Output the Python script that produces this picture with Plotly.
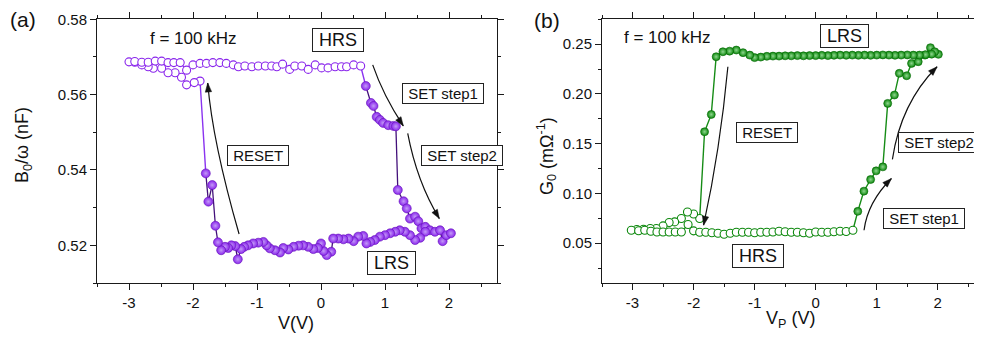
import math
import plotly.graph_objects as go

# ---------------- Panel (a) data: B0/omega (nF) vs V ----------------
a_hrs_v = [-1.89, -1.98, -2.10, -2.18, -2.28, -2.39, -2.49, -2.62, -2.70, -2.80, -2.91, -3.00,
           -2.91, -2.80, -2.70, -2.59, -2.49, -2.39, -2.30, -2.20, -2.10, -2.00, -1.89, -1.79,
           -1.69, -1.58, -1.48, -1.37, -1.29, -1.19, -1.08, -0.98, -0.87, -0.77, -0.69, -0.60,
           -0.49, -0.41, -0.30, -0.20, -0.09, 0.01, 0.11, 0.22, 0.32, 0.40, 0.51, 0.62]
a_hrs_b = [0.5636, 0.5632, 0.5626, 0.5646, 0.5658, 0.5658, 0.5670, 0.5670, 0.5674, 0.5679, 0.5686, 0.5687,
           0.5688, 0.5686, 0.5686, 0.5689, 0.5689, 0.5685, 0.5685, 0.5685, 0.5665, 0.5679, 0.5683, 0.5683,
           0.5685, 0.5685, 0.5683, 0.5679, 0.5674, 0.5676, 0.5674, 0.5676, 0.5676, 0.5676, 0.5674, 0.5681,
           0.5667, 0.5676, 0.5676, 0.5667, 0.5679, 0.5671, 0.5671, 0.5674, 0.5674, 0.5674, 0.5679, 0.5676]

a_lrs_v = [0.70, 0.78, 0.82, 0.87, 0.92, 0.97, 1.05, 1.13, 1.17,
           1.20, 1.29, 1.34, 1.39, 1.47, 1.52, 1.57, 1.63, 1.70, 1.78, 1.86, 1.90, 1.96, 2.03,
           1.63, 1.55, 1.47, 1.39, 1.31, 1.23, 1.16, 1.08, 1.00, 0.92, 0.84, 0.77, 0.71, 0.66,
           0.58, 0.51, 0.43, 0.35, 0.27, 0.19, 0.16, 0.09, 0.04, 0.00, -0.05, -0.12, -0.20,
           -0.28, -0.35, -0.43, -0.51, -0.59, -0.64, -0.72, -0.80, -0.85, -0.90, -0.98, -1.06,
           -1.14, -1.20, -1.25, -1.30, -1.34, -1.40, -1.45, -1.50, -1.56, -1.61, -1.65, -1.70,
           -1.76, -1.80]
a_lrs_b = [0.5623, 0.5578, 0.5570, 0.5541, 0.5533, 0.5525, 0.5519, 0.5517, 0.5516,
           0.5347, 0.5317, 0.5298, 0.5271, 0.5276, 0.5264, 0.5245, 0.5249, 0.5240, 0.5236, 0.5240, 0.5211, 0.5227, 0.5232,
           0.5236, 0.5220, 0.5214, 0.5227, 0.5236, 0.5240, 0.5236, 0.5232, 0.5227, 0.5223, 0.5214, 0.5209, 0.5205, 0.5225,
           0.5223, 0.5211, 0.5218, 0.5216, 0.5218, 0.5218, 0.5183, 0.5174, 0.5185, 0.5205, 0.5193, 0.5190, 0.5196,
           0.5200, 0.5199, 0.5196, 0.5189, 0.5193, 0.5181, 0.5187, 0.5192, 0.5200, 0.5209, 0.5207, 0.5205,
           0.5200, 0.5196, 0.5190, 0.5163, 0.5198, 0.5200, 0.5193, 0.5196, 0.5187, 0.5208, 0.5252, 0.5360,
           0.5316, 0.5391]

# ---------------- Panel (b) data: G0 (mOhm^-1) vs VP ----------------
b_hrs_v = [-1.90, -2.00, -2.10, -2.20, -2.31, -2.40, -2.50, -2.61, -2.71, -2.82, -2.93, -3.02,
           -2.90, -2.80, -2.70, -2.60, -2.50, -2.40, -2.30, -2.20, -2.09, -2.00, -1.90, -1.80,
           -1.70, -1.60, -1.50, -1.40, -1.30, -1.20, -1.10, -1.00, -0.90, -0.80, -0.70, -0.60,
           -0.50, -0.40, -0.30, -0.20, -0.10, 0.00, 0.10, 0.20, 0.30, 0.40, 0.50, 0.61]
b_hrs_g = [0.0748, 0.0794, 0.0814, 0.0748, 0.0714, 0.0708, 0.0674, 0.0647, 0.0647, 0.0640, 0.0637, 0.0630,
           0.0625, 0.0630, 0.0620, 0.0613, 0.0613, 0.0613, 0.0613, 0.0613, 0.0688, 0.0624, 0.0610, 0.0610,
           0.0605, 0.0600, 0.0590, 0.0600, 0.0610, 0.0610, 0.0610, 0.0605, 0.0610, 0.0610, 0.0612, 0.0620,
           0.0615, 0.0610, 0.0610, 0.0605, 0.0600, 0.0613, 0.0610, 0.0610, 0.0615, 0.0620, 0.0618, 0.0630]

b_lrs_v = [0.69, 0.79, 0.90, 0.99, 1.10,
           1.18, 1.29, 1.37, 1.49, 1.57, 1.68, 1.79, 1.88, 2.01, 1.95,
           1.90, 1.80, 1.70, 1.60, 1.50, 1.40, 1.30, 1.20, 1.10, 1.00, 0.90, 0.80, 0.70, 0.60,
           0.50, 0.40, 0.30, 0.20, 0.10, 0.00, -0.10, -0.20, -0.30, -0.40, -0.50, -0.60, -0.70,
           -0.80, -0.90, -1.00, -1.08, -1.19, -1.30, -1.41, -1.52, -1.63, -1.71, -1.82]
b_lrs_g = [0.0820, 0.1023, 0.1140, 0.1227, 0.1267,
           0.1905, 0.1989, 0.2207, 0.2183, 0.2307, 0.2324, 0.2390, 0.2465, 0.2398, 0.2424,
           0.2400, 0.2395, 0.2390, 0.2390, 0.2392, 0.2390, 0.2388, 0.2390, 0.2392, 0.2390, 0.2388, 0.2390, 0.2388, 0.2390,
           0.2388, 0.2390, 0.2388, 0.2385, 0.2388, 0.2385, 0.2385, 0.2383, 0.2385, 0.2383, 0.2383, 0.2380, 0.2380,
           0.2378, 0.2370, 0.2365, 0.2390, 0.2415, 0.2441, 0.2430, 0.2424, 0.2374, 0.1794, 0.1620]

x_tick_vals = [-3, -2, -1, 0, 1, 2]
x_tick_text = ["-3", "-2", "-1", "0", "1", "2"]
a_y_ticks = [0.52, 0.54, 0.56, 0.58]
b_y_ticks = [0.05, 0.10, 0.15, 0.20, 0.25]

PURPLE = "#8a26ec"
PURPLE_LINE = "#8a33f0"
PURPLE_DARK = "#43107a"
GREEN = "#0c880c"
GREEN_LINE = "#168c16"
FONT = "Liberation Sans, Arial, sans-serif"

# page body has an 8px margin; figure sized so that page = 982x337
OFF = 8
W, H = 982 - OFF, 337 - OFF


def px_x(p):
    return (p - OFF) / W


def px_y(p):
    return 1 - (p - OFF) / H


A_X = (97, 497, -3.5, 2.75)
A_Y = (283, 19.3, 0.51, 0.58)
B_X = (602, 980.5, -3.5, 2.7)
B_Y = (283, 19.3, 0.01, 0.275)

fig = go.Figure()

# ---- panel (a) traces ----
fig.add_trace(go.Scatter(x=[a_lrs_v[-1]] + a_hrs_v + [a_lrs_v[0]],
                         y=[a_lrs_b[-1]] + a_hrs_b + [a_lrs_b[0]],
                         mode="lines", line=dict(color=PURPLE_LINE, width=1.4),
                         xaxis="x", yaxis="y", hoverinfo="skip"))
fig.add_trace(go.Scatter(x=a_lrs_v, y=a_lrs_b, mode="lines+markers",
                         line=dict(color=PURPLE_DARK, width=1.3),
                         marker=dict(size=9, color=PURPLE,
                                     gradient=dict(type="radial", color="#c39af7"),
                                     line=dict(width=0.6, color="#6512b8")),
                         xaxis="x", yaxis="y"))
fig.add_trace(go.Scatter(x=a_hrs_v, y=a_hrs_b, mode="markers",
                         marker=dict(size=8, color="white", line=dict(width=1.1, color=PURPLE)),
                         xaxis="x", yaxis="y"))

# ---- panel (b) traces ----
fig.add_trace(go.Scatter(x=[b_lrs_v[-1]] + b_hrs_v + [b_lrs_v[0]],
                         y=[b_lrs_g[-1]] + b_hrs_g + [b_lrs_g[0]],
                         mode="lines", line=dict(color=GREEN_LINE, width=1.4),
                         xaxis="x2", yaxis="y2", hoverinfo="skip"))
fig.add_trace(go.Scatter(x=b_lrs_v, y=b_lrs_g, mode="lines+markers",
                         line=dict(color=GREEN_LINE, width=1.4),
                         marker=dict(size=8, color=GREEN,
                                     gradient=dict(type="radial", color="#8fd68f"),
                                     line=dict(width=0.6, color="#086808")),
                         xaxis="x2", yaxis="y2"))
fig.add_trace(go.Scatter(x=b_hrs_v, y=b_hrs_g, mode="markers",
                         marker=dict(size=8, color="white", line=dict(width=1.1, color=GREEN)),
                         xaxis="x2", yaxis="y2"))

axis_common = dict(showgrid=False, zeroline=False, showline=True, linecolor="#1a1a1a", linewidth=1,
                   mirror="ticks", ticks="outside", ticklen=6, tickwidth=1, tickcolor="#1a1a1a",
                   tickfont=dict(family=FONT, size=15, color="#111"))

fig.update_layout(
    width=W, height=H, margin=dict(l=0, r=0, t=0, b=0, autoexpand=False),
    paper_bgcolor="white", plot_bgcolor="white", showlegend=False,
    xaxis=dict(domain=[px_x(A_X[0]), px_x(A_X[1])], range=[A_X[2], A_X[3]], anchor="y",
               tickvals=x_tick_vals, ticktext=x_tick_text,
               minor=dict(dtick=0.5, tick0=0, ticklen=3, ticks="outside", tickcolor="#1a1a1a"),
               **axis_common),
    yaxis=dict(domain=[px_y(A_Y[0]), px_y(A_Y[1])], range=[A_Y[2], A_Y[3]], anchor="x",
               tickvals=a_y_ticks, tickformat=".2f",
               minor=dict(dtick=0.01, tick0=0.51, ticklen=3, ticks="outside", tickcolor="#1a1a1a"),
               **axis_common),
    xaxis2=dict(domain=[px_x(B_X[0]), px_x(B_X[1])], range=[B_X[2], B_X[3]], anchor="y2",
                tickvals=x_tick_vals, ticktext=x_tick_text,
                minor=dict(dtick=0.5, tick0=0, ticklen=3, ticks="outside", tickcolor="#1a1a1a"),
                **axis_common),
    yaxis2=dict(domain=[px_y(B_Y[0]), px_y(B_Y[1])], range=[B_Y[2], B_Y[3]], anchor="x2",
                tickvals=b_y_ticks, tickformat=".2f",
                minor=dict(dtick=0.025, tick0=0, ticklen=3, ticks="outside", tickcolor="#1a1a1a"),
                **axis_common),
)

ann = []
shapes = []


def text(x, y, s, size, xref="x", yref="y", angle=0):
    ann.append(dict(x=x, y=y, xref=xref, yref=yref, text=s, showarrow=False, textangle=angle,
                    font=dict(family=FONT, size=size, color="#111"), xanchor="center", yanchor="middle"))


def boxed(x, y, s, size, xref, yref):
    nb = "\u00a0"
    ann.append(dict(x=x, y=y, xref=xref, yref=yref, text=nb + s + nb, showarrow=False,
                    font=dict(family=FONT, size=size, color="#111"), bgcolor="white",
                    bordercolor="#222", borderwidth=1, borderpad=1, xanchor="center", yanchor="middle"))


def curved_arrow(p0, c, p1, xref, yref, xs, ys):
    shapes.append(dict(type="path", xref=xref, yref=yref,
                       path=f"M {p0[0]},{p0[1]} Q {c[0]},{c[1]} {p1[0]},{p1[1]}",
                       line=dict(color="#111", width=1.2)))
    # arrowhead: small filled triangle, sized in pixels, oriented along end tangent
    sx = (xs[1] - xs[0]) / (xs[3] - xs[2])
    sy = (ys[0] - ys[1]) / (ys[3] - ys[2])
    dx = (p1[0] - c[0]) * sx
    dy = (p1[1] - c[1]) * sy  # y-up pixels
    n = math.hypot(dx, dy)
    ux, uy = dx / n, dy / n
    L, Wd = 9.0, 3.2
    bx, by = -L * ux, -L * uy
    nx, ny = -uy, ux
    path = (f"M 0,0 L {bx + Wd * nx:.2f},{by + Wd * ny:.2f} "
            f"L {bx - Wd * nx:.2f},{by - Wd * ny:.2f} Z")
    shapes.append(dict(type="path", xref=xref, yref=yref, xsizemode="pixel", ysizemode="pixel",
                       xanchor=p1[0], yanchor=p1[1], path=path,
                       fillcolor="#111", line=dict(color="#111", width=0.5)))


# panel (a) texts
text(px_x(23), px_y(19), "(a)", 21, "paper", "paper")
text(-2.0, 0.5750, "f = 100 kHz", 17)
boxed(0.266, 0.5744, "HRS", 18, "x", "y")
boxed(1.91, 0.5603, "SET step1", 15, "x", "y")
boxed(-0.977, 0.5439, "RESET", 15, "x", "y")
boxed(2.21, 0.5439, "SET step2", 15, "x", "y")
boxed(1.105, 0.5154, "LRS", 18, "x", "y")
text(px_x(296), px_y(323), "V(V)", 18, "paper", "paper")
text(px_x(24), px_y(145), "B<sub>0</sub>/ω (nF)", 18, "paper", "paper", angle=-90)

curved_arrow((-1.28, 0.5230), (-1.695, 0.5475), (-1.77, 0.5631), "x", "y", A_X, A_Y)
curved_arrow((0.808, 0.5679), (0.972, 0.5598), (1.286, 0.5517), "x", "y", A_X, A_Y)
curved_arrow((1.355, 0.5497), (1.500, 0.5368), (1.849, 0.5271), "x", "y", A_X, A_Y)

# panel (b) texts
text(px_x(547), px_y(21), "(b)", 21, "paper", "paper")
text(-2.43, 0.2572, "f = 100 kHz", 17, "x2", "y2")
boxed(0.467, 0.2587, "LRS", 18, "x2", "y2")
boxed(-0.795, 0.1613, "RESET", 15, "x2", "y2")
boxed(2.025, 0.151, "SET step2", 15, "x2", "y2")
boxed(1.774, 0.0753, "SET step1", 15, "x2", "y2")
boxed(-0.951, 0.0372, "HRS", 18, "x2", "y2")
text(px_x(790), px_y(319), "V<sub>P</sub> (V)", 18, "paper", "paper")
text(px_x(547), px_y(156), "G<sub>0</sub> (mΩ<sup>-1</sup>)", 18, "paper", "paper", angle=-90)

curved_arrow((-1.438, 0.2273), (-1.566, 0.1433), (-1.836, 0.0681), "x2", "y2", B_X, B_Y)
curved_arrow((0.792, 0.0630), (0.852, 0.0913), (1.241, 0.1150), "x2", "y2", B_X, B_Y)
curved_arrow((1.257, 0.1342), (1.393, 0.1908), (1.989, 0.2273), "x2", "y2", B_X, B_Y)

fig.update_layout(annotations=ann, shapes=shapes)
fig.write_html("out.html")
